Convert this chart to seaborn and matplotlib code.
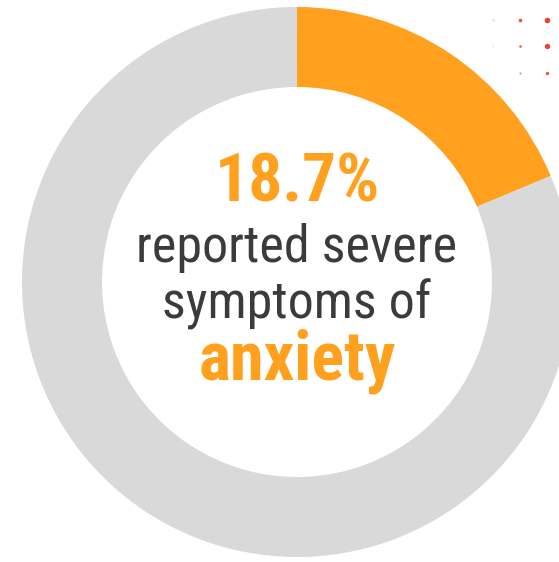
import matplotlib
matplotlib.use("Agg")
import matplotlib.pyplot as plt
from matplotlib import font_manager
import seaborn as sns

# Share of respondents reporting severe anxiety symptoms
categories = ["Severe anxiety", "Other"]
values = [18.7, 81.3]
headline = "18.7%"
caption_lines = ["reported severe", "symptoms of"]
keyword = "anxiety"

# Small decorative dot grid in the top-right corner
dot_x = [493, 520, 547, 493, 520, 547, 520, 547]
dot_y = [20, 20, 20, 46, 46, 46, 73, 73]
dot_size = [3, 7, 16, 1.2, 4, 15, 2.5, 6]
dot_alpha = [0.25, 0.9, 1.0, 0.25, 0.8, 1.0, 0.6, 0.9]

ORANGE = "#FFA11F"
GREY = "#D9D9D9"
DARK = "#3B3B3B"

sns.set_theme(style="white")


def pick_family():
    names = {f.name for f in font_manager.fontManager.ttflist}
    for cand in ["Roboto Condensed", "Liberation Sans Narrow", "Roboto"]:
        if cand in names:
            return cand
    return "DejaVu Sans"


family = pick_family()
plt.rcParams["font.family"] = [family, "DejaVu Sans"]

W, H = 559, 562
fig = plt.figure(figsize=(W / 100, H / 100), dpi=100)
ax = fig.add_axes([0, 0, 1, 1])

cx, cy = 297, H - 282
R, ring = 275, 80
ax.pie(values, colors=[ORANGE, GREY], startangle=90, counterclock=False,
       radius=R, center=(cx, cy), frame=True,
       wedgeprops=dict(width=ring, linewidth=0))
ax.set_xlim(0, W)
ax.set_ylim(0, H)
ax.set_aspect("equal")
ax.axis("off")

for x, y, s, a in zip(dot_x, dot_y, dot_size, dot_alpha):
    ax.scatter(x, H - y, s=s, color="#E8452A", alpha=a, linewidths=0, zorder=5)

ax.text(cx, H - 202, headline, ha="center", va="baseline", fontsize=48.5,
        fontweight="bold", color=ORANGE)
ax.text(cx, H - 262, caption_lines[0], ha="center", va="baseline",
        fontsize=37.5, color=DARK)
ax.text(cx, H - 318, caption_lines[1], ha="center", va="baseline",
        fontsize=37.5, color=DARK)
ax.text(cx, H - 379, keyword, ha="center", va="baseline", fontsize=49,
        fontweight="bold", color=ORANGE)

fig.savefig("out.png", dpi=100, facecolor="white")
